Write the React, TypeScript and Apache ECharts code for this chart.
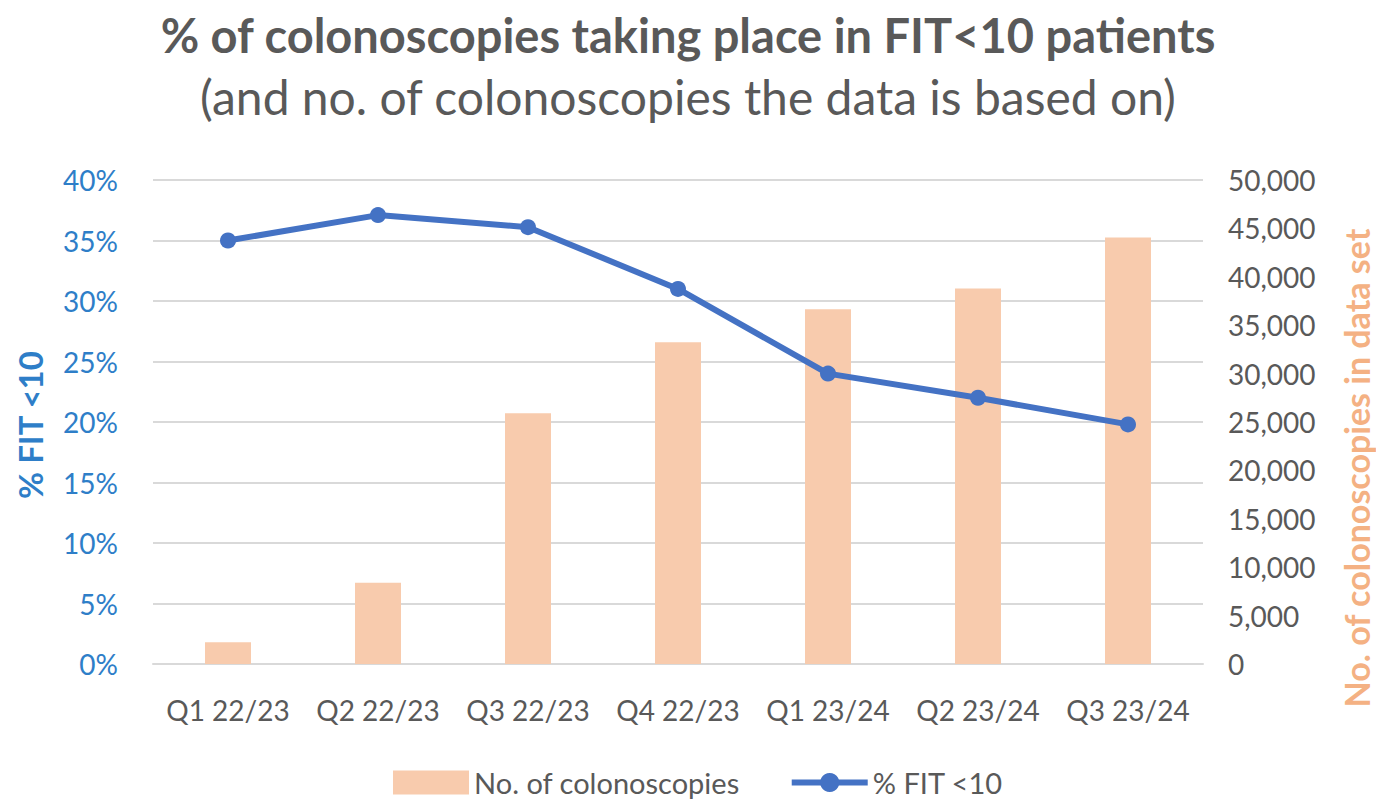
import React, { useEffect, useRef } from "react";
import * as echarts from "echarts";

const categories = ["Q1 22/23", "Q2 22/23", "Q3 22/23", "Q4 22/23", "Q1 23/24", "Q2 23/24", "Q3 23/24"];
const colonoscopies = [2250, 8400, 25900, 33250, 36650, 38800, 44050];
const fitPct = [35.0, 37.1, 36.1, 31.0, 24.0, 22.0, 19.8];

const FONT = "Lato, 'Open Sans', sans-serif";
const GREY = "#595959";
const BLUE_LBL = "#2E7EC8";
const LINE = "#4472C4";
const BAR = "#F8CBAD";
const ORANGE = "#F4B183";

export default function App() {
  const ref = useRef<HTMLDivElement>(null);
  useEffect(() => {
    document.body.style.margin = "0";
    const chart = echarts.init(ref.current!, null, { renderer: "svg" });
    chart.setOption({
      animation: false,
      textStyle: { fontFamily: FONT },
      title: [
        {
          text: "% of colonoscopies taking place in FIT<10 patients",
          left: "center",
          top: 6,
          textStyle: { fontFamily: FONT, fontSize: 47, fontWeight: "bold", color: GREY },
        },
        {
          text: "(and no. of colonoscopies the data is based on)",
          left: "center",
          top: 67,
          textStyle: { fontFamily: FONT, fontSize: 48, fontWeight: "normal", color: GREY },
        },
      ],
      grid: { left: 153, right: 173, top: 180, bottom: 140, containLabel: false },
      legend: {
        bottom: 2,
        left: 388,
        itemGap: 49,
        itemWidth: 76,
        itemHeight: 24,
        textStyle: { fontFamily: FONT, fontSize: 29, color: GREY },
        data: [
          { name: "No. of colonoscopies", icon: "rect" },
          { name: "% FIT <10", lineStyle: { width: 6, color: LINE } },
        ],
      },
      xAxis: {
        type: "category",
        data: categories,
        axisLine: { show: true, lineStyle: { color: "#D9D9D9", width: 2 } },
        axisTick: { show: false },
        axisLabel: {
          fontFamily: FONT,
          fontSize: 28,
          color: GREY,
          margin: 32,
          interval: 0,
          hideOverlap: false,
        },
      },
      yAxis: [
        {
          type: "value",
          min: 0,
          max: 40,
          interval: 5,
          axisLabel: { formatter: "{value}%", fontFamily: FONT, fontSize: 28, color: BLUE_LBL, margin: 35 },
          splitLine: { lineStyle: { color: "#D9D9D9", width: 2 } },
          axisLine: { show: false },
          axisTick: { show: false },
        },
        {
          type: "value",
          min: 0,
          max: 50000,
          interval: 5000,
          position: "right",
          axisLabel: {
            fontFamily: FONT,
            fontSize: 28,
            color: GREY,
            margin: 25,
            formatter: (v: number) => v.toLocaleString("en-US"),
          },
          splitLine: { show: false },
          axisLine: { show: false },
          axisTick: { show: false },
        },
      ],
      series: [
        {
          name: "No. of colonoscopies",
          type: "bar",
          yAxisIndex: 1,
          data: colonoscopies,
          barWidth: 46,
          itemStyle: { color: BAR },
          z: 1,
        },
        {
          name: "% FIT <10",
          type: "line",
          yAxisIndex: 0,
          data: fitPct,
          symbol: "circle",
          symbolSize: 16,
          lineStyle: { color: LINE, width: 6 },
          itemStyle: { color: LINE },
          z: 3,
        },
      ],
      graphic: [
        {
          type: "text",
          x: 30,
          y: 425,
          rotation: Math.PI / 2,
          style: {
            text: "% FIT <10",
            fontFamily: FONT,
            fontSize: 33,
            fontWeight: "bold",
            fill: BLUE_LBL,
            align: "center",
            verticalAlign: "middle",
          },
        },
        {
          type: "text",
          x: 1356,
          y: 468,
          rotation: Math.PI / 2,
          style: {
            text: "No. of colonoscopies in data set",
            fontFamily: FONT,
            fontSize: 34,
            fontWeight: "bold",
            fill: ORANGE,
            align: "center",
            verticalAlign: "middle",
          },
        },
      ],
    });
    return () => chart.dispose();
  }, []);
  return <div ref={ref} style={{ width: 1376, height: 804 }} />;
}
